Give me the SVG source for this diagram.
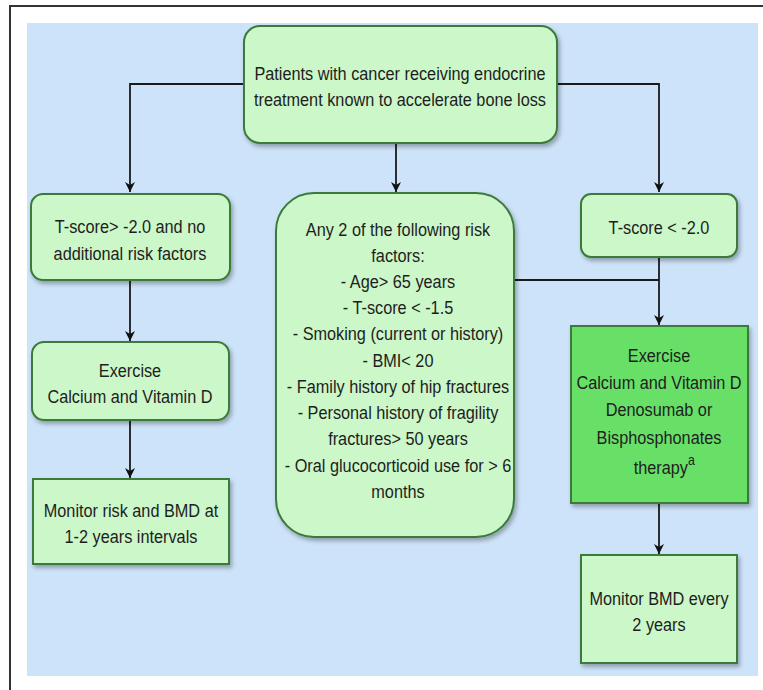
<svg xmlns="http://www.w3.org/2000/svg" width="763" height="690" viewBox="0 0 763 690">
<defs>
<filter id="sh" x="-10%" y="-10%" width="125%" height="130%">
<feDropShadow dx="2" dy="3" stdDeviation="2" flood-color="#000" flood-opacity="0.3"/>
</filter>
<marker id="arr" viewBox="0 0 10 10" refX="10" refY="5" markerWidth="10" markerHeight="10" markerUnits="userSpaceOnUse" orient="auto">
<path d="M0,0 L10,5 L0,10 L3,5 Z" fill="#111"/>
</marker>
</defs>
<style>
.node{fill:#ccf7c8;stroke:#3b7a3b;stroke-width:2;filter:url(#sh)}
.dark{fill:#68e068}
.t{font-family:"Liberation Sans",Arial,sans-serif;font-size:18.5px;fill:#1e1e1e;text-anchor:middle}
.c{fill:none;stroke:#1a1a1a;stroke-width:1.8}
</style>
<rect x="10" y="6" width="770" height="700" fill="#fff" stroke="#333" stroke-width="2"/>
<rect x="27" y="23" width="731" height="653" fill="#cde3f9"/>

<g id="connectors">
<path class="c" d="M244,84 H130 V192" marker-end="url(#arr)"/>
<path class="c" d="M396,143 V192" marker-end="url(#arr)"/>
<path class="c" d="M557,84 H659 V192" marker-end="url(#arr)"/>
<path class="c" d="M130,280 V341" marker-end="url(#arr)"/>
<path class="c" d="M130,420 V478" marker-end="url(#arr)"/>
<path class="c" d="M515,280 H659"/>
<path class="c" d="M659,257 V325" marker-end="url(#arr)"/>
<path class="c" d="M659,503 V554" marker-end="url(#arr)"/>
</g>

<g id="top">
<rect class="node" x="244" y="26" width="313" height="117" rx="16"/>
<g transform="matrix(0.88,0,0,1,48,0)">
<text class="t" x="400" y="80">Patients with cancer receiving endocrine</text>
<text class="t" x="400" y="106">treatment known to accelerate bone loss</text>
</g>
</g>

<g id="left1">
<rect class="node" x="31" y="194" width="199" height="86" rx="12"/>
<g transform="matrix(0.88,0,0,1,15.6,0)">
<text class="t" x="130" y="233">T-score&gt; -2.0 and no</text>
<text class="t" x="130" y="260">additional risk factors</text>
</g>
</g>

<g id="left2">
<rect class="node" x="32" y="342" width="197" height="78" rx="12"/>
<g transform="matrix(0.88,0,0,1,15.6,0)">
<text class="t" x="130" y="377">Exercise</text>
<text class="t" x="130" y="403">Calcium and Vitamin D</text>
</g>
</g>

<g id="left3">
<rect class="node" x="33" y="479" width="196" height="85"/>
<g transform="matrix(0.88,0,0,1,15.72,0)">
<text class="t" x="131" y="517">Monitor risk and BMD at</text>
<text class="t" x="131" y="543">1-2 years intervals</text>
</g>
</g>

<g id="center">
<rect class="node" x="276" y="193" width="238" height="344" rx="38"/>
<g transform="matrix(0.88,0,0,1,47.76,0)">
<text class="t" x="398" y="236">Any 2 of the following risk</text>
<text class="t" x="398" y="262">factors:</text>
<text class="t" x="398" y="288">- Age&gt; 65 years</text>
<text class="t" x="398" y="314">- T-score &lt; -1.5</text>
<text class="t" x="398" y="340">- Smoking (current or history)</text>
<text class="t" x="398" y="367">- BMI&lt; 20</text>
<text class="t" x="398" y="393">- Family history of hip fractures</text>
<text class="t" x="398" y="419">- Personal history of fragility</text>
<text class="t" x="398" y="445">fractures&gt; 50 years</text>
<text class="t" x="398" y="472">- Oral glucocorticoid use for &gt; 6</text>
<text class="t" x="398" y="498">months</text>
</g>
</g>

<g id="right1">
<rect class="node" x="581" y="194" width="156" height="63" rx="10"/>
<g transform="matrix(0.88,0,0,1,79.08,0)">
<text class="t" x="659" y="234">T-score &lt; -2.0</text>
</g>
</g>

<g id="right2">
<rect class="node dark" x="571" y="326" width="177" height="177"/>
<g transform="matrix(0.88,0,0,1,79.08,0)">
<text class="t" x="659" y="362">Exercise</text>
<text class="t" x="659" y="389">Calcium and Vitamin D</text>
<text class="t" x="659" y="416">Denosumab or</text>
<text class="t" x="659" y="444">Bisphosphonates</text>
<text class="t" x="665" y="474">therapy<tspan font-size="14" dy="-9">a</tspan></text>
</g>
</g>

<g id="right3">
<rect class="node" x="581" y="555" width="156" height="108"/>
<g transform="matrix(0.88,0,0,1,79.08,0)">
<text class="t" x="659" y="605">Monitor BMD every</text>
<text class="t" x="659" y="631">2 years</text>
</g>
</g>
</svg>
